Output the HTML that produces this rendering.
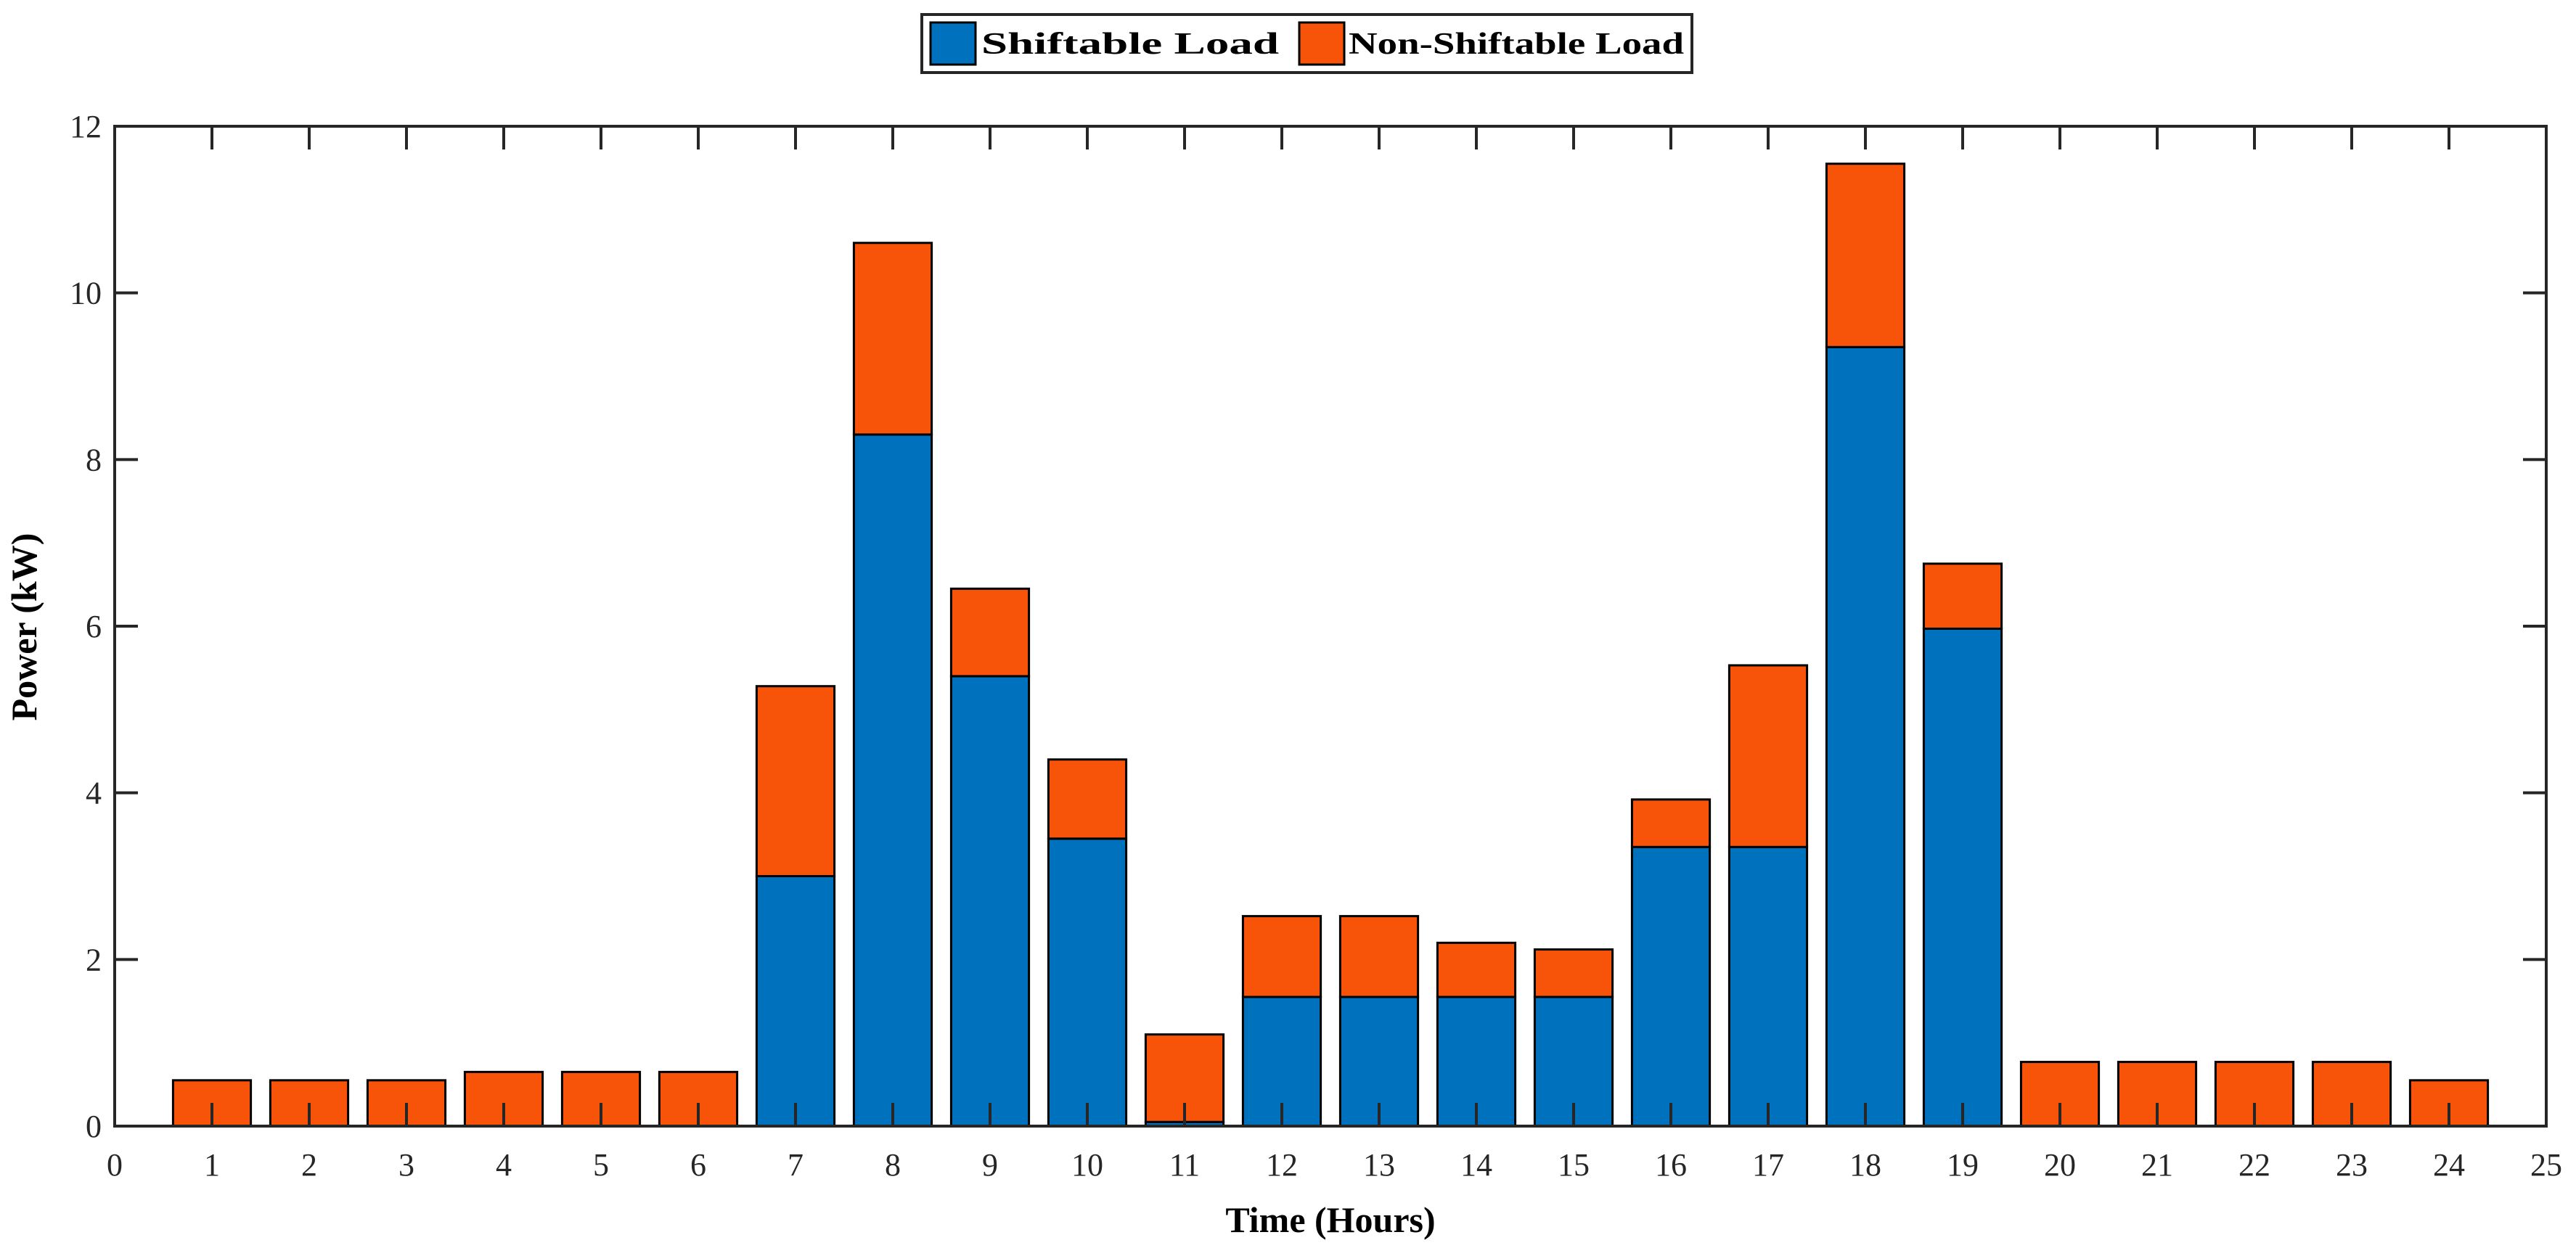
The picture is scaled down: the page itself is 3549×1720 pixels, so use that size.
<!DOCTYPE html>
<html><head><meta charset="utf-8"><style>
html,body{margin:0;padding:0;background:#fff;}
svg{display:block;font-family:"Liberation Serif",serif;}
</style></head><body>
<svg id="chart" width="3549" height="1720" viewBox="0 0 3549 1720" xmlns="http://www.w3.org/2000/svg">
<rect width="3549" height="1720" fill="#fff"/>
<g id="bars"></g>
<g id="axes"></g>
<g>
  <rect x="1270" y="20" width="1061" height="80" fill="#fff" stroke="#262626" stroke-width="4"/>
  <rect x="1282" y="31" width="62" height="58" fill="#0072BD" stroke="#000" stroke-width="3"/>
  <text x="1352" y="74" font-size="42" font-weight="bold" textLength="410" lengthAdjust="spacingAndGlyphs">Shiftable Load</text>
  <rect x="1790" y="31" width="62" height="58" fill="#F85409" stroke="#000" stroke-width="3"/>
  <text x="1858" y="74" font-size="42" font-weight="bold" textLength="462" lengthAdjust="spacingAndGlyphs">Non-Shiftable Load</text>
</g>
<text x="1833" y="1698" text-anchor="middle" font-size="50" font-weight="bold">Time (Hours)</text>
<text x="0" y="0" transform="translate(50,864) rotate(-90)" text-anchor="middle" font-size="50" font-weight="bold">Power (kW)</text>
</svg>
<script>
const hours = [1,2,3,4,5,6,7,8,9,10,11,12,13,14,15,16,17,18,19,20,21,22,23,24];
const shiftable = [0,0,0,0,0,0,3.0,8.3,5.4,3.45,0.05,1.55,1.55,1.55,1.55,3.35,3.35,9.35,5.97,0,0,0,0,0];
const nonShiftable = [0.55,0.55,0.55,0.65,0.65,0.65,2.28,2.3,1.05,0.95,1.05,0.97,0.97,0.65,0.57,0.57,2.18,2.2,0.78,0.77,0.77,0.77,0.77,0.55];
const xTicks = [0,1,2,3,4,5,6,7,8,9,10,11,12,13,14,15,16,17,18,19,20,21,22,23,24,25];
const yTicks = [0,2,4,6,8,10,12];

const L=158,R=3508,T=174,B=1552;
const xMin=0,xMax=25,yMin=0,yMax=12;
function xs(v){return L+(v-xMin)/(xMax-xMin)*(R-L);}
function ys(v){return B-(v-yMin)/(yMax-yMin)*(B-T);}
const NS="http://www.w3.org/2000/svg";
const bars=document.getElementById('bars');
const axes=document.getElementById('axes');
const bw=0.8*(xs(1)-xs(0));
function mk(tag,attrs,parent){const e=document.createElementNS(NS,tag);for(const k in attrs)e.setAttribute(k,attrs[k]);parent.appendChild(e);return e;}

hours.forEach((h,i)=>{
  const s=shiftable[i], n=nonShiftable[i];
  if(s>0){
    const r=mk('rect',{x:xs(h)-bw/2,y:ys(s),width:bw,height:ys(0)-ys(s),fill:'#0072BD',stroke:'#000','stroke-width':3},bars);
    
    
  }
  const r2=mk('rect',{x:xs(h)-bw/2,y:ys(s+n),width:bw,height:ys(s)-ys(s+n),fill:'#F85409',stroke:'#000','stroke-width':3},bars);
  
  
});

const box=mk('rect',{x:L,y:T,width:R-L,height:B-T,fill:'none',stroke:'#262626','stroke-width':4},axes);



xTicks.forEach(t=>{
  const x=xs(t);
  mk('line',{x1:x,y1:B,x2:x,y2:B-32,stroke:'#262626','stroke-width':4},axes);
  mk('line',{x1:x,y1:T,x2:x,y2:T+32,stroke:'#262626','stroke-width':4},axes);
  const tx=mk('text',{x:x,y:1620,'text-anchor':'middle','font-size':44,fill:'#262626'},axes);
  tx.textContent=t;
  
  
});
yTicks.forEach(t=>{
  const y=ys(t);
  mk('line',{x1:L,y1:y,x2:L+32,y2:y,stroke:'#262626','stroke-width':4},axes);
  mk('line',{x1:R,y1:y,x2:R-32,y2:y,stroke:'#262626','stroke-width':4},axes);
  const tx=mk('text',{x:140,y:y+15,'text-anchor':'end','font-size':44,fill:'#262626'},axes);
  tx.textContent=t;
  
  
});
</script>
</body></html>
